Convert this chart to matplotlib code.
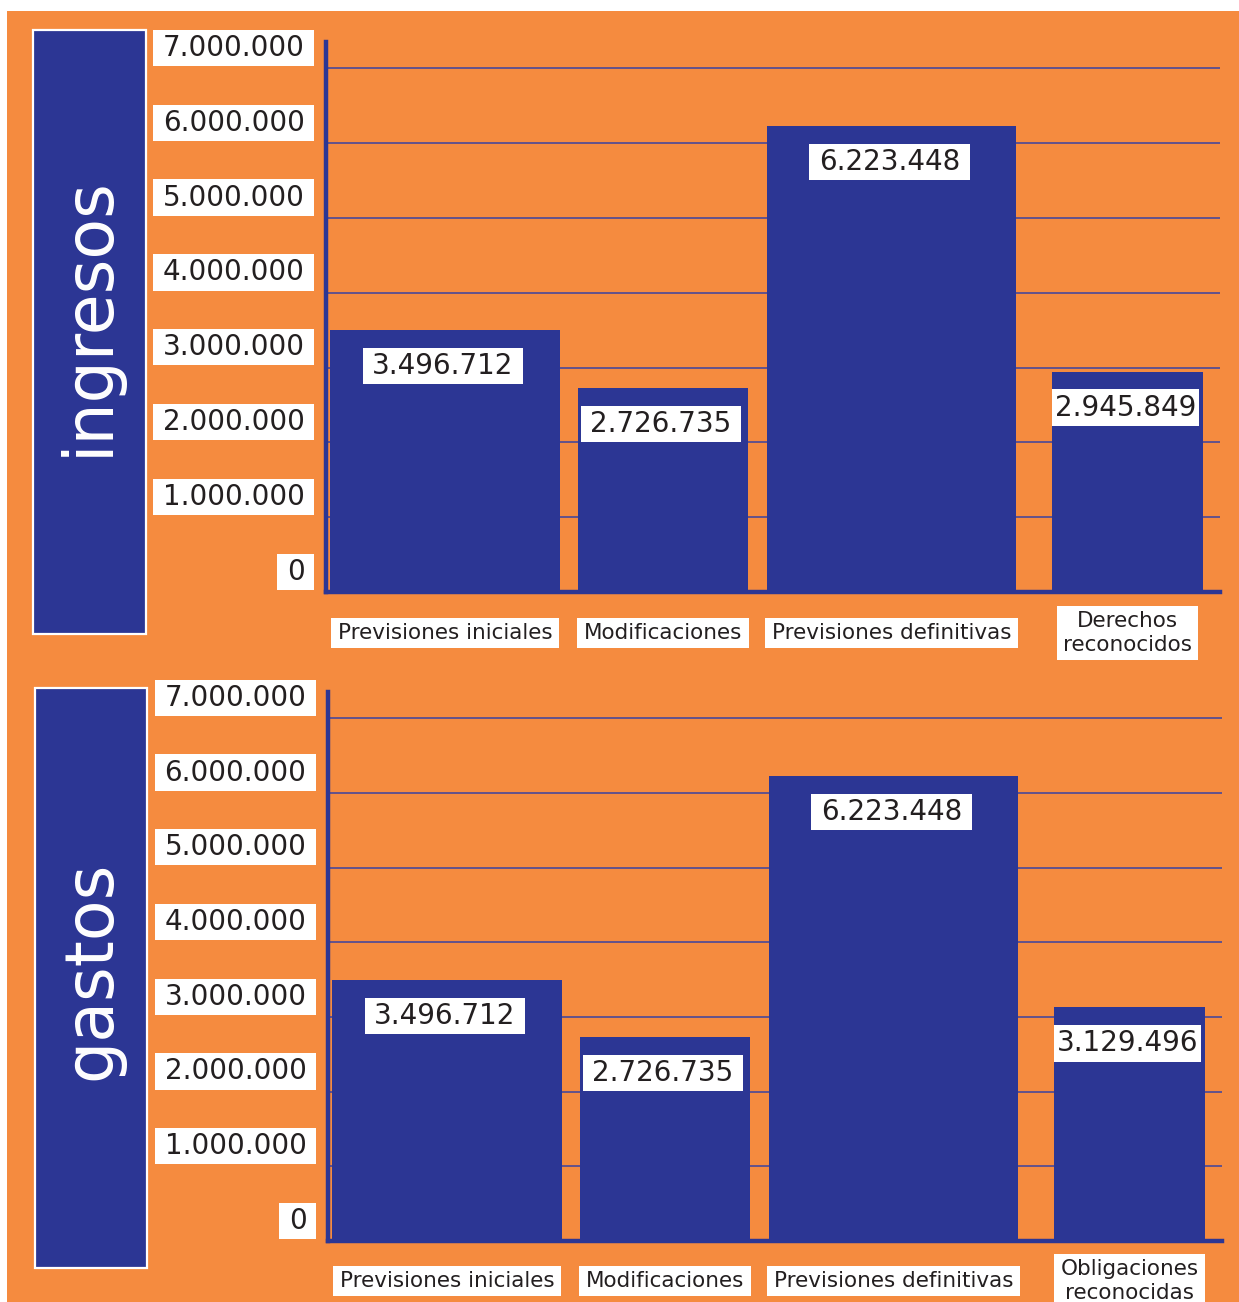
import matplotlib
matplotlib.use("Agg")
import matplotlib.pyplot as plt
from matplotlib.patches import Rectangle

# ---------------- data ----------------
categories_ingresos = ["Previsiones iniciales", "Modificaciones",
                       "Previsiones definitivas", "Derechos\nreconocidos"]
categories_gastos = ["Previsiones iniciales", "Modificaciones",
                     "Previsiones definitivas", "Obligaciones\nreconocidas"]
values_ingresos = [3496712, 2726735, 6223448, 2945849]
values_gastos = [3496712, 2726735, 6223448, 3129496]
panel_titles = ["ingresos", "gastos"]
y_ticks = [0, 1000000, 2000000, 3000000, 4000000, 5000000, 6000000, 7000000]
y_tick_labels = ["0", "1.000.000", "2.000.000", "3.000.000", "4.000.000",
                 "5.000.000", "6.000.000", "7.000.000"]

# ---------------- layout / style ----------------
W, H = 1239, 1302
DPI = 100
PT = 72.0 / DPI  # points per pixel
ORANGE = "#f58b3f"
BLUE = "#2c3694"
GRID = "#4a4898"

bar_left_px = [4, 252, 441, 726]      # relative to axes left (pixel units)
bar_width_px = [230, 170, 249, 151]
x_span_px = 894

panels = [
    dict(ax_left=326, ax_top=42, ax_zero=592, box=(33, 30, 146, 634),
         title_xy=(89, 316), cats=categories_ingresos, vals=values_ingresos,
         cat_dy=41),
    dict(ax_left=328, ax_top=692, ax_zero=1241, box=(35, 688, 147, 1268),
         title_xy=(91, 970), cats=categories_gastos, vals=values_gastos,
         cat_dy=40),
]
Y_TOP = 7.35e6


def fmt(v):
    return f"{v:,}".replace(",", ".")


fig = plt.figure(figsize=(W / DPI, H / DPI), dpi=DPI)
fig.patch.set_facecolor("white")

# orange background
fig.patches.append(Rectangle((7 / W, 0), (W - 7) / W, (H - 11) / H,
                             transform=fig.transFigure, facecolor=ORANGE,
                             edgecolor="none", zorder=-3))

for p, title in zip(panels, panel_titles):
    x0, y0, x1, y1 = p["box"]
    fig.patches.append(Rectangle((x0 / W, 1 - y1 / H), (x1 - x0) / W,
                                 (y1 - y0) / H, transform=fig.transFigure,
                                 facecolor=BLUE, edgecolor="white",
                                 linewidth=1.6, zorder=-2))
    tx, ty = p["title_xy"]
    fig.text(tx / W, 1 - ty / H, title, rotation=90, color="white",
             fontsize=48, ha="center", va="center", family="DejaVu Sans",
             zorder=2)

    left = p["ax_left"] / W
    bottom = 1 - p["ax_zero"] / H
    height = (p["ax_zero"] - p["ax_top"]) / H
    ax = fig.add_axes([left, bottom, x_span_px / W, height])
    ax.set_zorder(1)
    ax.set_facecolor("none")
    ax.set_xlim(0, x_span_px)
    ax.set_ylim(0, Y_TOP)
    ax.set_axisbelow(True)
    ax.set_yticks(y_ticks[1:])
    ax.set_xticks([])
    ax.tick_params(axis="y", length=0, labelleft=False)
    ax.yaxis.grid(True, color=GRID, linewidth=1.2)
    for s in ["top", "right"]:
        ax.spines[s].set_visible(False)
    for s in ["left", "bottom"]:
        ax.spines[s].set_color(BLUE)
        ax.spines[s].set_linewidth(3.2)
        ax.spines[s].set_zorder(5)

    centers = [l + w / 2 for l, w in zip(bar_left_px, bar_width_px)]
    ax.bar(centers, p["vals"], width=bar_width_px, color=BLUE,
           edgecolor="none", zorder=3)

    # y tick labels in white boxes
    for t, lab in zip(y_ticks, y_tick_labels):
        ax.annotate(lab, xy=(0, t), xycoords=("axes fraction", "data"),
                    xytext=(-(12 + 9.5) * PT, (2 + 4.2) * PT),
                    textcoords="offset points", ha="right", va="bottom",
                    fontsize=20, color="#231f20", annotation_clip=False,
                    bbox=dict(boxstyle="square,pad=0.34", facecolor="white",
                              edgecolor="none", mutation_aspect=0.44))

    # value labels
    for c, v, w in zip(centers, p["vals"], bar_width_px):
        pad, asp = (0.34, 0.44) if w > 165 else (0.11, 1.4)
        ax.annotate(fmt(v), xy=(c, v), xytext=(-2 * PT, -22 * PT),
                    textcoords="offset points", ha="center", va="top",
                    fontsize=20, color="#231f20", zorder=6,
                    bbox=dict(boxstyle=f"square,pad={pad}", facecolor="white",
                              edgecolor="none", mutation_aspect=asp))

    # category labels
    for c, cat in zip(centers, p["cats"]):
        ax.annotate(cat, xy=(c, 0), xytext=(0, -p["cat_dy"] * PT),
                    textcoords="offset points", ha="center", va="center",
                    fontsize=15.5, color="#231f20", linespacing=1.25,
                    annotation_clip=False, multialignment="center",
                    bbox=dict(boxstyle="square,pad=0.3", facecolor="white",
                              edgecolor="none", mutation_aspect=0.8))

fig.savefig("out.png", dpi=DPI, facecolor=fig.get_facecolor())
